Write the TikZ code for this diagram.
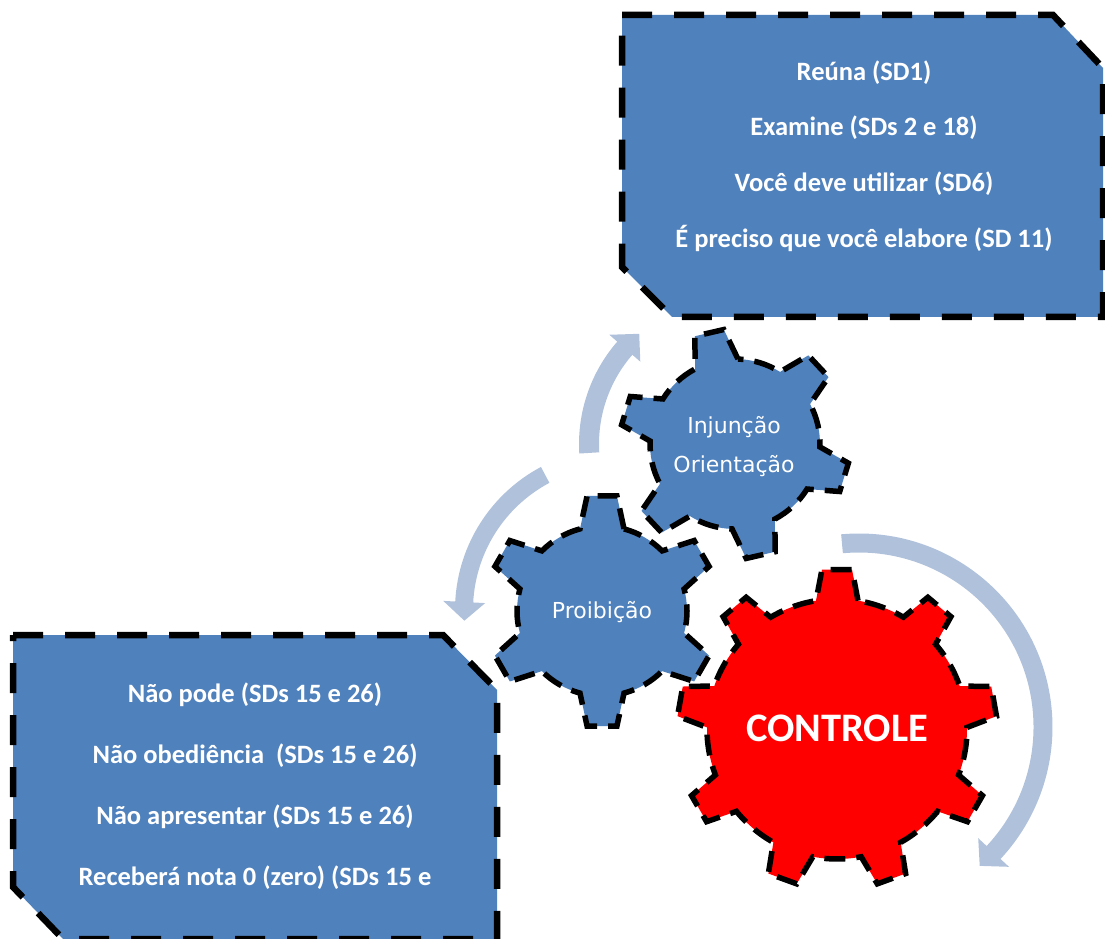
\documentclass[tikz,border=0pt]{standalone}
\usepackage{fontspec}
\setmainfont{Carlito}
\newfontfamily\gearfont{DejaVu Sans}
\definecolor{boxblue}{HTML}{4F81BD}
\definecolor{turnblue}{HTML}{B0C1DC}
\definecolor{gearred}{HTML}{FF0000}

\tikzset{
  panel/.style={fill=boxblue, draw=black, line width=6.5pt, dash pattern=on 30pt off 22pt, line join=miter},
  cog/.style={draw=black, line width=5.5pt, dash pattern=on 21pt off 11pt, line join=miter},
  turn/.style={fill=turnblue, draw=none},
  paneltext/.style={text=white, font=\bfseries\fontsize{26.5}{55.6}\selectfont, align=center, inner sep=0pt},
  coglabel/.style={text=white, font=\gearfont\fontsize{22}{39}\selectfont, align=center, inner sep=0pt},
}

% gear outline around the current origin:
% #1 teeth, #2 angle of first tooth, #3 root radius, #4 tip radius,
% #5 half angle of a tooth at its root, #6 half angle at its tip
\newcommand\cogpath[6]{%
  ({#2-#5}:#3)
  \foreach \k [evaluate=\k as \a using {#2+(\k-1)*360/#1}] in {1,...,#1} {
    -- ({\a-#6}:#4) -- ({\a+#6}:#4) -- ({\a+#5}:#3)
    arc[start angle={\a+#5}, end angle={\a+360/#1-#5}, radius=#3]
  } -- cycle}

% curved arrow: #1 centre, #2 mid radius, #3 band width, #4 start angle,
% #5 end angle of the band, #6 angle of the tip, #7 half width of the head
\newcommand\turnarrow[7]{%
  \begin{scope}[shift={#1}]
    \fill[turn] ({#4}:{#2+#3/2}) arc[start angle={#4}, end angle={#5}, radius={#2+#3/2}]
      -- ({#5}:{#2+#7}) -- ({#6}:{#2}) -- ({#5}:{#2-#7}) -- ({#5}:{#2-#3/2})
      arc[start angle={#5}, end angle={#4}, radius={#2-#3/2}] -- cycle;
  \end{scope}}

\begin{document}
\begin{tikzpicture}[x=1pt, y=1pt]
  \useasboundingbox (0,0) rectangle (1105,938);

  % rotation arrows
  \turnarrow{(735,494)}{146}{20}{183.5}{139}{131}{20.5}
  \turnarrow{(617,328)}{153}{18}{118}{177}{184}{21}
  \turnarrow{(859,211)}{184}{19}{95.3}{-43}{-49}{21}

  % text panels
  \path[panel] (622,923) -- (1053,923) -- (1103,870) -- (1103,621)
    -- (672,621) -- (622,671) -- cycle;
  \node[paneltext] (orders) at (864,782)
    {Reúna (SD1)\\Examine (SDs 2 e 18)\\Você deve utilizar (SD6)\\É preciso que você elabore (SD 11)};

  \path[panel] (13,303) -- (443,303) -- (497,248) -- (497,-1)
    -- (63,-1) -- (13,51) -- cycle;
  \node[paneltext, font=\bfseries\fontsize{26.5}{61}\selectfont] (bans) at (255,152)
    {Não pode (SDs 15 e 26)\\Não obediência\ \ (SDs 15 e 26)\\Não apresentar (SDs 15 e 26)\\Receberá nota 0 (zero) (SDs 15 e};

  % gears
  \begin{scope}[shift={(837,209)}]
    \path[cog, fill=gearred] \cogpath{9}{90}{130}{160}{9.3}{5.4};
  \end{scope}
  \begin{scope}[shift={(735,494)}]
    \path[cog, fill=boxblue] \cogpath{6}{103}{85}{115}{15}{7.4};
  \end{scope}
  \begin{scope}[shift={(602,327)}]
    \path[cog, fill=boxblue] \cogpath{6}{90}{85}{116}{15}{7.4};
  \end{scope}

  \node[coglabel] (guide) at (734,491.5) {Injunção\\Orientação};
  \node[coglabel] (ban) at (602,326) {Proibição};
  \node[text=white, font=\bfseries\fontsize{40.5}{40}\selectfont, inner sep=0pt] (control) at (837,210) {CONTROLE};
\end{tikzpicture}
\end{document}
